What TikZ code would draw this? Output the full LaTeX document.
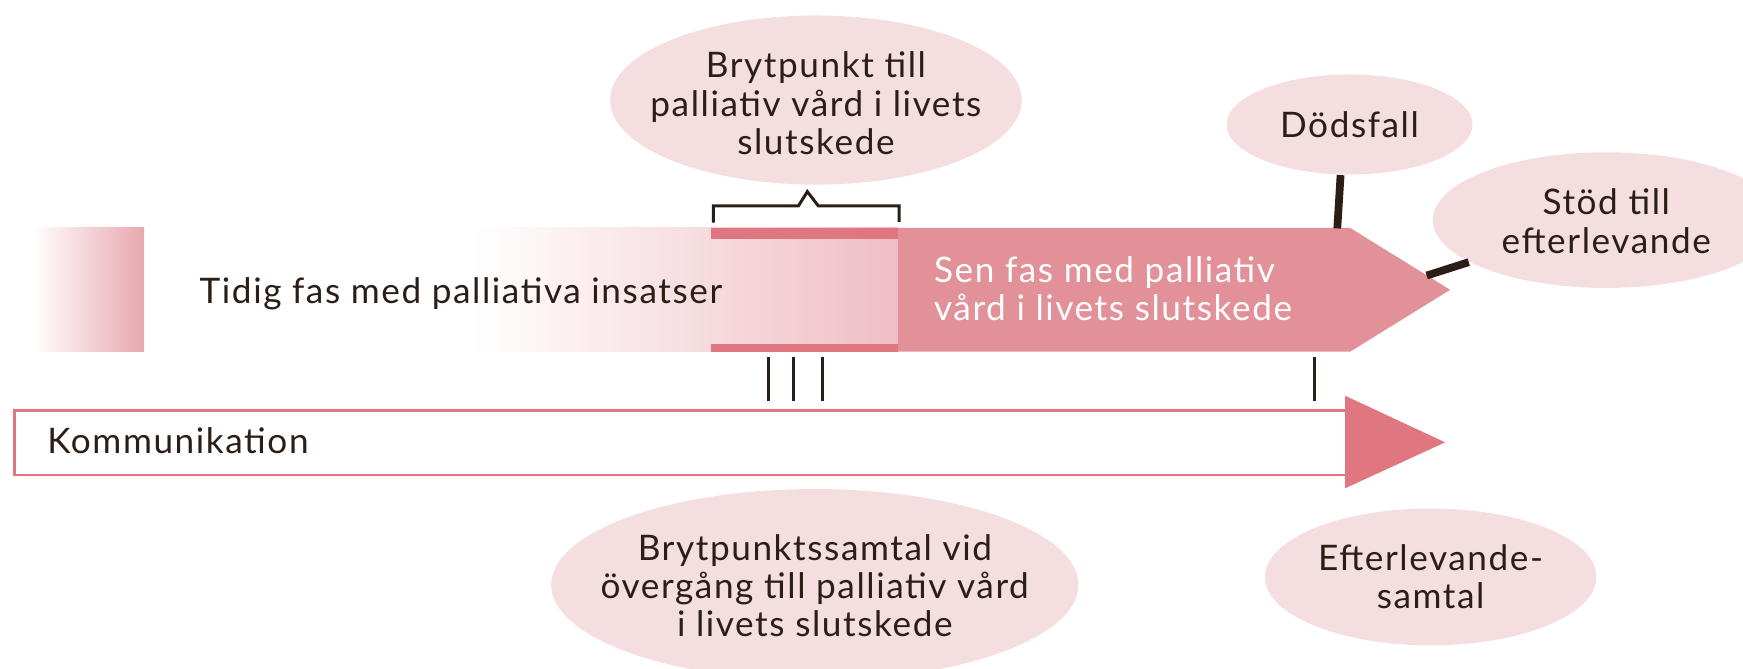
\documentclass[tikz,border=0pt]{standalone}
\usepackage{fontspec}
\setmainfont{Lato}[LetterSpace=4.5]
\usetikzlibrary{shapes.geometric}
\definecolor{ink}{HTML}{2A1E16}
\definecolor{bubblepink}{HTML}{F4DEE0}
\definecolor{senpink}{HTML}{E29198}
\definecolor{strippink}{HTML}{E07680}
\definecolor{blockpink}{HTML}{E8A8AE}
\definecolor{barpink}{HTML}{EFBEC4}
\tikzset{
    lbl/.style={font=\fontsize{10}{10.9}\selectfont, text=ink, inner sep=0pt},
    bubble/.style={ellipse, fill=bubblepink, inner sep=0pt},
    bubbletext/.style={lbl, align=center},
    link/.style={draw=ink, line width=2.2pt},
    tickline/.style={draw=ink, line width=0.75pt},
    bracketline/.style={draw=ink, line width=0.85pt},
}
\begin{document}
\begin{tikzpicture}[x=0.011116cm, y=-0.011116cm]
    \useasboundingbox (0,0) rectangle (1568,601);
    % early phase
    \shade[left color=white, right color=blockpink] (28.5,205) rectangle (129.6,316.4);
    \shade[left color=white, right color=barpink] (424,205) rectangle (808,316.4);
    \fill[strippink] (640,205) rectangle (808,215);
    \fill[strippink] (640,309.5) rectangle (808,316.4);
    \node[lbl, anchor=base west] (tidig) at (179,272.9)
        {Tidig fas med palliativa insatser};
    \draw[bracketline] (641.7,200.3) -- (641.7,185.3) -- (718.2,185.3)
        -- (726.3,172.4) -- (736.2,185.3) -- (808.8,185.3) -- (808.8,199.5);
    % late phase
    \fill[senpink] (808,205) -- (1214.5,205) -- (1304.5,260.7)
        -- (1214.5,316.4) -- (808,316.4) -- cycle;
    \node[lbl, text=white, align=left, anchor=north west] (sen) at (839.7,230)
        {Sen fas med palliativ\\vård i livets slutskede};
    \coordinate (senTop) at (1203,205.5);
    \coordinate (senEdge) at (1283.4,247.9);
    % bubbles
    \node[bubble, minimum width=4.113cm, minimum height=1.690cm] (brytTop) at (734,90) {};
    \node[bubbletext] (brytTopText) at (734,93)
        {Brytpunkt till\\palliativ vård i livets\\slutskede};
    \node[bubble, minimum width=2.457cm, minimum height=1.0cm] (dods) at (1214,112) {};
    \node[bubbletext] (dodsText) at (dods) {Dödsfall};
    \node[bubble, minimum width=3.468cm, minimum height=1.356cm] (stoed) at (1445,198) {};
    \node[bubbletext] (stoedText) at (1445,199) {Stöd till\\efterlevande};
    \node[bubble, minimum width=5.269cm, minimum height=1.912cm] (brytSamtal) at (733,526) {};
    \node[bubbletext] (brytSamtalText) at (733,527)
        {Brytpunktssamtal vid\\övergång till palliativ vård\\i livets slutskede};
    \node[bubble, minimum width=3.313cm, minimum height=1.367cm] (efter) at (1287,519) {};
    \node[bubbletext] (efterText) at (efter) {Efterlevande-\\samtal};
    \draw[link] (dods.260) -- (senTop);
    \draw[link] (senEdge) -- (stoed.197);
    % communication
    \foreach \x in {691.2,713.7,739.8,1182.4}
        \draw[tickline] (\x,320.9) -- (\x,360.5);
    \draw[draw=strippink, line width=0.66pt] (1210,369.3) -- (13,369.3)
        -- (13,427) -- (1210,427);
    \fill[strippink] (1210,356) -- (1300,397.9) -- (1210,439.3) -- cycle;
    \node[lbl, anchor=base west] (komm) at (42,407.8) {Kommunikation};
\end{tikzpicture}
\end{document}
